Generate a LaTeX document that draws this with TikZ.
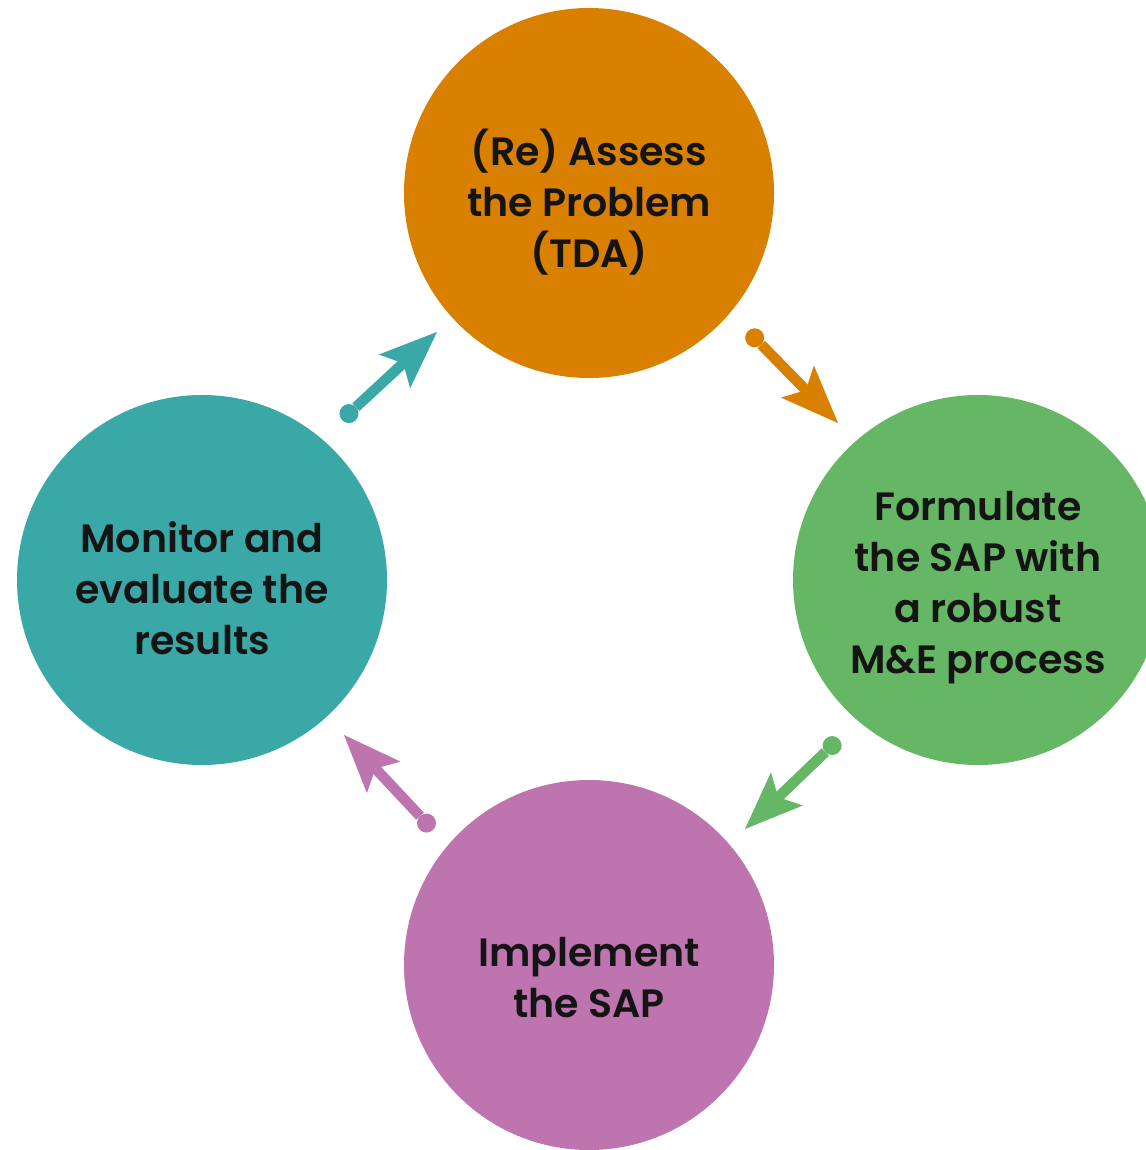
\documentclass[tikz,border=0pt]{standalone}
\usepackage{fontspec}
\setmainfont{Poppins}[BoldFont={Poppins SemiBold}]
\usetikzlibrary{arrows.meta}
\usetikzlibrary{positioning}

\definecolor{assessorange}{RGB}{217,128,0}
\definecolor{sapgreen}{RGB}{102,183,101}
\definecolor{implpink}{RGB}{190,116,174}
\definecolor{monteal}{RGB}{58,168,166}

\tikzset{
  stage/.style={circle,minimum size=370pt,inner sep=0pt},
  stagetext/.style={align=center,text=black!92,
    font=\fontsize{39.5}{51}\selectfont\bfseries},
  cycarrow/.style={line width=10.5pt,
    {Circle[length=19pt,width=19pt,line width=0pt]}-{Stealth[length=58pt,width=46pt,inset=12pt,line width=0pt]}}
}

\begin{document}
\begin{tikzpicture}[x=1pt,y=-1pt]
  \useasboundingbox (0,0) rectangle (1145,1150);
  % the four stages
  \node[stage,fill=assessorange](assess) at (589,193) {};
  \node[stage,fill=sapgreen](formulate) at (978,580) {};
  \node[stage,fill=implpink](implement) at (589,965) {};
  \node[stage,fill=monteal](monitor) at (202,580) {};
  \node[stagetext](assess-text) at ([yshift=-9pt]assess) {(Re) Assess\\the Problem\\(TDA)};
  \node[stagetext](formulate-text) at ([yshift=-8pt]formulate) {Formulate\\the SAP with\\a robust\\M\&E process};
  \node[stagetext](implement-text) at ([yshift=-13pt]implement) {Implement\\the SAP};
  \node[stagetext](monitor-text) at ([yshift=-8pt]monitor) {Monitor and\\evaluate the\\results};
  %%
  \coordinate (assess-out) at (748,331);
  \coordinate (formulate-in) at (838,423);
  \coordinate (formulate-out) at (839,739);
  \coordinate (implement-in) at (745,829);
  \coordinate (implement-out) at (433,830);
  \coordinate (monitor-in) at (344,735);
  \coordinate (monitor-out) at (342,420);
  \coordinate (assess-in) at (437,332);
  \draw[cycarrow,assessorange](assess-out)--(formulate-in);
  \draw[cycarrow,sapgreen](formulate-out)--(implement-in);
  \draw[cycarrow,implpink](implement-out)--(monitor-in);
  \draw[cycarrow,monteal](monitor-out)--(assess-in);
\end{tikzpicture}
\end{document}
